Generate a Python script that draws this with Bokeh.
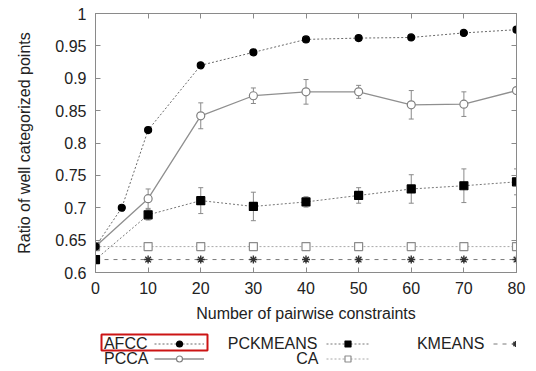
from bokeh.plotting import figure
from bokeh.layouts import column
from bokeh.models import (ColumnDataSource, Whisker, TeeHead, Legend, LegendItem,
                          FixedTicker, LinearAxis, BoxAnnotation, Range1d, Label)
from bokeh.embed import file_html
from bokeh.resources import INLINE

# ---- data ----
AFCC_X = [0, 5, 10, 20, 30, 40, 50, 60, 70, 80]
AFCC_Y = [0.64, 0.70, 0.82, 0.92, 0.94, 0.96, 0.962, 0.963, 0.970, 0.975]

X = [0, 10, 20, 30, 40, 50, 60, 70, 80]
PCCA_Y = [0.64, 0.714, 0.842, 0.873, 0.879, 0.879, 0.859, 0.860, 0.881]
PCCA_ERR = [0.0, 0.015, 0.020, 0.012, 0.019, 0.010, 0.022, 0.019, 0.003]
PCKMEANS_Y = [0.62, 0.689, 0.711, 0.702, 0.709, 0.719, 0.729, 0.734, 0.740]
PCKMEANS_ERR = [0.0, 0.008, 0.020, 0.022, 0.008, 0.012, 0.022, 0.026, 0.020]
CA_Y = [0.64, 0.64, 0.64, 0.64, 0.64, 0.64, 0.64, 0.64, 0.64]
KMEANS_Y = [0.62, 0.62, 0.62, 0.62, 0.62, 0.62, 0.62, 0.62, 0.62]

SERIES_NAMES = ["AFCC", "PCCA", "PCKMEANS", "CA", "KMEANS"]

X_TICKS = [0, 10, 20, 30, 40, 50, 60, 70, 80]
Y_TICKS = [0.6, 0.65, 0.7, 0.75, 0.8, 0.85, 0.9, 0.95, 1.0]
Y_LABELS = ["0.6", "0.65", "0.7", "0.75", "0.8", "0.85", "0.9", "0.95", "1"]

FONT = "Liberation Sans"
FRAME = "#8a8a8a"
TXT = "#222222"
W = 536
BL, BR = 95, 20

STY = {
    "AFCC": dict(lc="#6a6a6a", dash="2 2", lw=1, marker="circle", size=7, fill="black", mlc="black", mlw=1.2),
    "PCCA": dict(lc="#8f8f8f", dash="solid", lw=1.3, marker="circle", size=8, fill="white", mlc="#808080", mlw=1.2),
    "PCKMEANS": dict(lc="#777777", dash="2 2", lw=1, marker="square", size=8, fill="black", mlc="black", mlw=1.2),
    "CA": dict(lc="#a8a8a8", dash="2 2", lw=1, marker="square", size=8, fill="white", mlc="#8c8c8c", mlw=1.2),
    "KMEANS": dict(lc="#7a7a7a", dash="4 5", lw=1, marker="asterisk", size=8, fill=None, mlc="#333333", mlw=1.4),
}

p = figure(width=W, height=330, output_backend="svg", toolbar_location=None,
           x_range=Range1d(0, 80), y_range=Range1d(0.6, 1.0),
           min_border_left=BL, min_border_right=BR, min_border_top=13,
           min_border_bottom=58)
p.xgrid.visible = False
p.ygrid.visible = False
p.outline_line_color = FRAME

def style_axis(ax):
    ax.axis_line_color = FRAME
    ax.major_tick_line_color = FRAME
    ax.minor_tick_line_color = None
    ax.major_tick_in = 5
    ax.major_tick_out = 0
    ax.major_label_text_font = FONT
    ax.major_label_text_font_size = "16px"
    ax.major_label_text_color = TXT
    ax.axis_label_text_font = FONT
    ax.axis_label_text_font_size = "16px"
    ax.axis_label_text_font_style = "normal"
    ax.axis_label_text_color = TXT

p.xaxis.ticker = FixedTicker(ticks=X_TICKS)
p.yaxis.ticker = FixedTicker(ticks=Y_TICKS)
p.yaxis.major_label_overrides = {t: l for t, l in zip(Y_TICKS, Y_LABELS)}
style_axis(p.xaxis[0])
style_axis(p.yaxis[0])
p.xaxis.axis_label = "Number of pairwise constraints"
p.yaxis.axis_label = "Ratio of well categorized points"
p.xaxis.major_label_standoff = 9
p.yaxis.major_label_standoff = 9
p.xaxis.axis_label_standoff = 8
p.yaxis.axis_label_standoff = 19

top_ax = LinearAxis(ticker=FixedTicker(ticks=X_TICKS))
style_axis(top_ax)
top_ax.major_label_overrides = {t: "" for t in X_TICKS}
top_ax.major_label_standoff = 0
right_ax = LinearAxis(ticker=FixedTicker(ticks=Y_TICKS))
style_axis(right_ax)
right_ax.major_label_overrides = {t: "" for t in Y_TICKS}
right_ax.major_label_standoff = 0
p.add_layout(top_ax, "above")
p.add_layout(right_ax, "right")

# ---- series ----
pcca_src = ColumnDataSource(dict(x=X, y=PCCA_Y,
                                 lo=[v - e for v, e in zip(PCCA_Y, PCCA_ERR)],
                                 hi=[v + e for v, e in zip(PCCA_Y, PCCA_ERR)]))
pck_src = ColumnDataSource(dict(x=X, y=PCKMEANS_Y,
                                lo=[v - e for v, e in zip(PCKMEANS_Y, PCKMEANS_ERR)],
                                hi=[v + e for v, e in zip(PCKMEANS_Y, PCKMEANS_ERR)]))
afcc_src = ColumnDataSource(dict(x=AFCC_X, y=AFCC_Y))
ca_src = ColumnDataSource(dict(x=X, y=CA_Y))
km_src = ColumnDataSource(dict(x=X, y=KMEANS_Y))
SRC = {"AFCC": afcc_src, "PCCA": pcca_src, "PCKMEANS": pck_src, "CA": ca_src, "KMEANS": km_src}

def draw(fig, name):
    s = STY[name]
    l = fig.line("x", "y", source=SRC[name], line_color=s["lc"], line_width=s["lw"],
                 line_dash=s["dash"])
    m = fig.scatter("x", "y", source=SRC[name], marker=s["marker"], size=s["size"],
                    fill_color=s["fill"], line_color=s["mlc"], line_width=s["mlw"])
    return [l, m]

def whisk(src):
    p.add_layout(Whisker(source=src, base="x", lower="lo", upper="hi",
                         line_color="#8a8a8a", line_width=1,
                         upper_head=TeeHead(size=5, line_color="#8a8a8a"),
                         lower_head=TeeHead(size=5, line_color="#8a8a8a")))

draw(p, "KMEANS")
draw(p, "CA")
whisk(pck_src)
draw(p, "PCKMEANS")
whisk(pcca_src)
draw(p, "PCCA")
draw(p, "AFCC")

# ---- legend strip (gnuplot style: label, then sample) ----
LH = 41
leg = figure(width=W, height=LH, output_backend="svg", toolbar_location=None,
             x_range=Range1d(BL, W - BR), y_range=Range1d(LH, 0),
             min_border_left=BL, min_border_right=BR, min_border_top=0,
             min_border_bottom=0, outline_line_color=None)
leg.axis.visible = False
leg.xgrid.visible = False
leg.ygrid.visible = False

# the series drawn again on this strip act as legend sources (they fall outside its view)
proxies = {name: draw(leg, name) for name in SERIES_NAMES}

def add_legend(names, x, y, width):
    lg = Legend(items=[LegendItem(label=" ", renderers=proxies[n]) for n in names],
                orientation="vertical", location=(x, y))
    lg.border_line_color = None
    lg.background_fill_alpha = 0
    lg.padding = 0
    lg.margin = 0
    lg.spacing = 0
    lg.glyph_width = width
    lg.glyph_height = 15
    lg.label_height = 15
    lg.label_width = 0
    lg.label_standoff = 0
    lg.label_text_font_size = "1px"
    leg.add_layout(lg, "center")

add_legend(["AFCC", "PCCA"], 154 - BL, 5, 50)
add_legend(["PCKMEANS", "CA"], 326 - BL, 5, 43)
add_legend(["KMEANS"], 493 - BL, 20, 44)

LABEL_POS = {"AFCC": (147, 13), "PCCA": (148, 28), "PCKMEANS": (317, 13),
             "CA": (318, 28), "KMEANS": (484, 13)}
for name in SERIES_NAMES:
    lx, ly = LABEL_POS[name]
    leg.add_layout(Label(x=lx, y=ly, text=name, text_align="right",
                         text_baseline="middle", text_font=FONT,
                         text_font_size="16px", text_color=TXT))

leg.add_layout(BoxAnnotation(left=101, right=207, top=4, bottom=20,
                             fill_color=None, fill_alpha=0, line_color="#cc1414",
                             line_alpha=1.0, line_width=2))

open("out.html", "w").write(file_html(column(p, leg), INLINE))
